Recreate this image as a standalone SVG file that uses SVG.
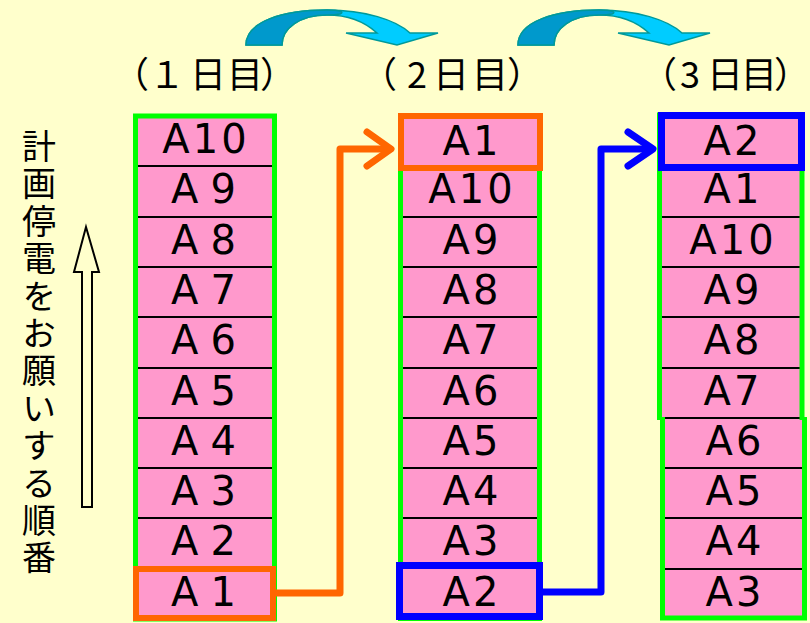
<svg xmlns="http://www.w3.org/2000/svg" width="810" height="623" viewBox="0 0 810 623">
<style>
.cell{fill:#FF99CC;stroke:none}
.div{stroke:#000;stroke-width:2}
.lbl{font-family:"DejaVu Sans","Liberation Sans",sans-serif;font-size:40px;fill:#000;text-anchor:middle;letter-spacing:3px}
.hdr{font-family:"Noto Sans CJK JP",sans-serif;font-size:36px;fill:#000}
.vt{font-family:"Noto Sans CJK JP",sans-serif;font-size:34px;fill:#000;writing-mode:vertical-rl;letter-spacing:3.4px}
.grn{fill:none;stroke:#00FF00;stroke-width:5}
.org{fill:none;stroke:#FF6600;stroke-width:6}
.blu{fill:none;stroke:#0000FF;stroke-width:7}
.con{fill:none;stroke-width:7;stroke-linejoin:round;stroke-linecap:round}
.cv{fill:#00CCFF;stroke:#009999;stroke-width:1.5}
.cvd{fill:#0099CC;stroke:#009999;stroke-width:1.5}
</style>
<rect width="810" height="623" fill="#FFFFCC"/>

<!-- curved arrows -->
<g id="curve1">
<path class="cv" d="M246,45 C246,22 282,10 327,10 C365,10 396,20 410,33 L438,33 L397,45 L346,33 L377,33 C365,22 350,15 327,15 C300,15 282,28 282,45 Z"/>
<path class="cvd" d="M246,45 C246,22 282,10 327,10 C340,10 345,12 340,14 C335,15 330,15 327,15 C300,15 282,28 282,45 Z"/>
</g>
<g id="curve2" transform="translate(272,0)">
<path class="cv" d="M246,45 C246,22 282,10 327,10 C365,10 396,20 410,33 L438,33 L397,45 L346,33 L377,33 C365,22 350,15 327,15 C300,15 282,28 282,45 Z"/>
<path class="cvd" d="M246,45 C246,22 282,10 327,10 C340,10 345,12 340,14 C335,15 330,15 327,15 C300,15 282,28 282,45 Z"/>
</g>

<!-- headers -->
<g id="headers">
<text class="hdr" x="113 149 190 227 260" y="88">（１日目）</text>
<text class="hdr" x="361 407 433 472 507" y="88">（2日目）</text>
<text class="hdr" x="641 680 707 741 774" y="88">（3日目）</text>
</g>

<!-- vertical label -->
<g id="side-label">
<text class="vt" x="39" y="129">計画停電をお願いする順番</text>
</g>
<g id="up-arrow">
<polygon points="86,227 99,272 92,272 92,507 82,507 82,272 74,272" fill="#FFFFCC" stroke="#000" stroke-width="2"/>
</g>

<!-- Column 1 -->
<g id="day1">
<rect class="cell" x="136" y="116" width="138" height="503"/>
<g class="div">
<line x1="137" y1="166" x2="273" y2="166"/><line x1="137" y1="217" x2="273" y2="217"/>
<line x1="137" y1="267" x2="273" y2="267"/><line x1="137" y1="317" x2="273" y2="317"/>
<line x1="137" y1="368" x2="273" y2="368"/><line x1="137" y1="418" x2="273" y2="418"/>
<line x1="137" y1="468" x2="273" y2="468"/><line x1="137" y1="518" x2="273" y2="518"/>
<line x1="137" y1="569" x2="273" y2="569"/>
</g>
<g id="d1-A10"><text class="lbl" x="206" y="153">A10</text></g>
<g id="d1-A9"><text class="lbl" x="205" y="203">A<tspan dx="9">9</tspan></text></g>
<g id="d1-A8"><text class="lbl" x="205" y="254">A<tspan dx="9">8</tspan></text></g>
<g id="d1-A7"><text class="lbl" x="205" y="304">A<tspan dx="9">7</tspan></text></g>
<g id="d1-A6"><text class="lbl" x="205" y="354">A<tspan dx="9">6</tspan></text></g>
<g id="d1-A5"><text class="lbl" x="205" y="405">A<tspan dx="9">5</tspan></text></g>
<g id="d1-A4"><text class="lbl" x="205" y="455">A<tspan dx="9">4</tspan></text></g>
<g id="d1-A3"><text class="lbl" x="205" y="505">A<tspan dx="9">3</tspan></text></g>
<g id="d1-A2"><text class="lbl" x="205" y="555">A<tspan dx="9">2</tspan></text></g>
<g id="d1-A1"><text class="lbl" x="205" y="606">A<tspan dx="9">1</tspan></text></g>
<rect class="grn" x="135.5" y="116" width="139" height="503"/>
<rect class="org" x="136" y="569" width="137" height="49"/>
</g>

<!-- Column 2 -->
<g id="day2">
<rect class="cell" x="401" y="116" width="138" height="503"/>
<g class="div">
<line x1="402" y1="166" x2="538" y2="166"/><line x1="402" y1="217" x2="538" y2="217"/>
<line x1="402" y1="267" x2="538" y2="267"/><line x1="402" y1="317" x2="538" y2="317"/>
<line x1="402" y1="368" x2="538" y2="368"/><line x1="402" y1="418" x2="538" y2="418"/>
<line x1="402" y1="468" x2="538" y2="468"/><line x1="402" y1="518" x2="538" y2="518"/>
</g>
<g id="d2-A1"><text class="lbl" x="472" y="155">A1</text></g>
<g id="d2-A10"><text class="lbl" x="472" y="203">A10</text></g>
<g id="d2-A9"><text class="lbl" x="472" y="254">A9</text></g>
<g id="d2-A8"><text class="lbl" x="472" y="304">A8</text></g>
<g id="d2-A7"><text class="lbl" x="472" y="354">A7</text></g>
<g id="d2-A6"><text class="lbl" x="472" y="405">A6</text></g>
<g id="d2-A5"><text class="lbl" x="472" y="455">A5</text></g>
<g id="d2-A4"><text class="lbl" x="472" y="505">A4</text></g>
<g id="d2-A3"><text class="lbl" x="472" y="555">A3</text></g>
<g id="d2-A2"><text class="lbl" x="472" y="606">A2</text></g>
<rect class="grn" x="400.5" y="115.5" width="139" height="503"/>
<rect class="org" x="401" y="116" width="139" height="52"/>
<rect class="blu" x="399.5" y="565.5" width="140" height="51"/>
</g>

<!-- Column 3 -->
<g id="day3">
<rect class="cell" x="660" y="116" width="142" height="302"/>
<rect class="cell" x="663" y="418" width="141" height="200"/>
<g class="div">
<line x1="661" y1="166" x2="801" y2="166"/><line x1="661" y1="217" x2="801" y2="217"/>
<line x1="661" y1="267" x2="801" y2="267"/><line x1="661" y1="317" x2="801" y2="317"/>
<line x1="661" y1="368" x2="801" y2="368"/><line x1="663" y1="418" x2="803" y2="418"/>
<line x1="663" y1="468" x2="803" y2="468"/><line x1="663" y1="518" x2="803" y2="518"/>
<line x1="663" y1="569" x2="803" y2="569"/>
</g>
<g id="d3-A2"><text class="lbl" x="733" y="155">A2</text></g>
<g id="d3-A1"><text class="lbl" x="733" y="203">A1</text></g>
<g id="d3-A10"><text class="lbl" x="733" y="254">A10</text></g>
<g id="d3-A9"><text class="lbl" x="733" y="304">A9</text></g>
<g id="d3-A8"><text class="lbl" x="733" y="354">A8</text></g>
<g id="d3-A7"><text class="lbl" x="733" y="405">A7</text></g>
<g id="d3-A6"><text class="lbl" x="735" y="455">A6</text></g>
<g id="d3-A5"><text class="lbl" x="735" y="505">A5</text></g>
<g id="d3-A4"><text class="lbl" x="735" y="555">A4</text></g>
<g id="d3-A3"><text class="lbl" x="735" y="606">A3</text></g>
<path class="grn" d="M659.5,420 V115 H802 V420"/>
<path class="grn" d="M662.5,417 V618 H804.5 V417"/>
<rect class="blu" x="661.5" y="115.5" width="140" height="52"/>
</g>

<!-- connectors -->
<g id="connectors">
<polyline class="con" stroke="#FF6600" points="277,593 340,593 340,149 388,149"/>
<polyline class="con" stroke="#FF6600" points="367,132 391,149 367,166"/>
<polyline class="con" stroke="#0000FF" points="543,592 601,592 601,149 650,149"/>
<polyline class="con" stroke="#0000FF" points="628,132 653,149 628,166"/>
</g>
</svg>
